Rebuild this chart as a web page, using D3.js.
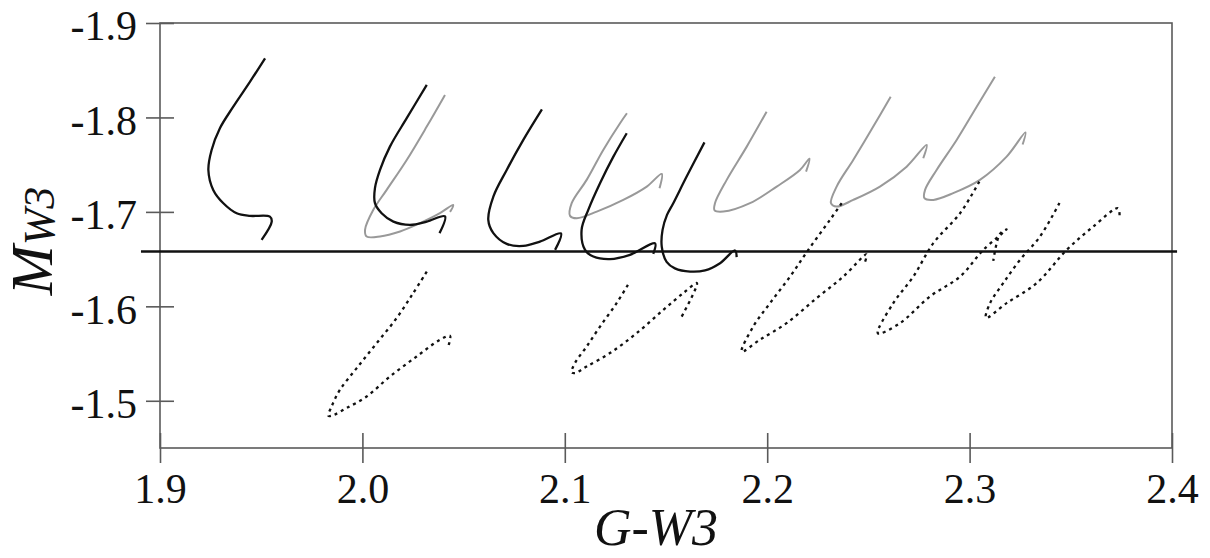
<!DOCTYPE html>
<html>
<head>
<meta charset="utf-8">
<script src="https://cdn.jsdelivr.net/npm/d3@7/dist/d3.min.js"></script>
<style>
  body { margin: 0; background: #fff; }
  svg { display: block; }
  text { font-family: "Times New Roman", "Liberation Serif", Times, serif; fill: #111; }
</style>
</head>
<body>
<svg id="chart-tracks" width="1210" height="558"></svg>
<script>
// === Data (G-W3, M_W3) ===
const xTicks = [1.9, 2.0, 2.1, 2.2, 2.3, 2.4];
const yTicks = [-1.9, -1.8, -1.7, -1.6, -1.5];
const refLevel = -1.658;            // horisontell linje
const refLineX = [1.8906, 2.4025];

// svarta heldragna spår
const black1 = [[1.9519,-1.8626],[1.9445,-1.8379],[1.9362,-1.8114],[1.9296,-1.7886],[1.9255,-1.7656],[1.9239,-1.7444],[1.9263,-1.7233],[1.9313,-1.7092],[1.9379,-1.6986],[1.9445,-1.6958],[1.9543,-1.6950],[1.9552,-1.6897],[1.9502,-1.6704]];
const black2 = [[2.0318,-1.8344],[2.0219,-1.7992],[2.0136,-1.7691],[2.0087,-1.7444],[2.0062,-1.7251],[2.0062,-1.7092],[2.0095,-1.6986],[2.0153,-1.6897],[2.0235,-1.6863],[2.0318,-1.6897],[2.0408,-1.6953],[2.0381,-1.6775]];
const black3 = [[2.0887,-1.8085],[2.0795,-1.7762],[2.0713,-1.7444],[2.0647,-1.7162],[2.0622,-1.6915],[2.0647,-1.6775],[2.0713,-1.6661],[2.0795,-1.6640],[2.0877,-1.6686],[2.0981,-1.6772],[2.0952,-1.6598]];
const black4 = [[2.1306,-1.7833],[2.1240,-1.7585],[2.1174,-1.7304],[2.1116,-1.7022],[2.1083,-1.6810],[2.1100,-1.6598],[2.1141,-1.6527],[2.1223,-1.6500],[2.1322,-1.6545],[2.1446,-1.6667],[2.1437,-1.6556]];
const black5 = [[2.1690,-1.7736],[2.1602,-1.7374],[2.1536,-1.7092],[2.1505,-1.6968],[2.1483,-1.6810],[2.1479,-1.6633],[2.1503,-1.6471],[2.1544,-1.6402],[2.1619,-1.6368],[2.1693,-1.6381],[2.1767,-1.6457],[2.1841,-1.6591],[2.1849,-1.6521]];

// grå spår
const gray1 = [[2.0408,-1.8238],[2.0318,-1.7903],[2.0219,-1.7550],[2.0120,-1.7233],[2.0054,-1.7022],[2.0013,-1.6810],[2.0021,-1.6739],[2.0087,-1.6739],[2.0186,-1.6792],[2.0285,-1.6881],[2.0383,-1.6986],[2.0449,-1.7074],[2.0433,-1.7000]];
const gray2 = [[2.1307,-1.8044],[2.1273,-1.7939],[2.1190,-1.7656],[2.1108,-1.7339],[2.1034,-1.7092],[2.1026,-1.6958],[2.1059,-1.6933],[2.1158,-1.7003],[2.1289,-1.7127],[2.1405,-1.7268],[2.1479,-1.7402],[2.1468,-1.7251]];
const gray3 = [[2.1997,-1.8061],[2.1899,-1.7691],[2.1800,-1.7339],[2.1742,-1.7092],[2.1740,-1.7016],[2.1783,-1.7003],[2.1915,-1.7092],[2.2047,-1.7268],[2.2162,-1.7444],[2.2209,-1.7564],[2.2192,-1.7426]];
const gray4 = [[2.2610,-1.8220],[2.2524,-1.7903],[2.2425,-1.7550],[2.2343,-1.7268],[2.2315,-1.7092],[2.2343,-1.7056],[2.2425,-1.7127],[2.2557,-1.7268],[2.2689,-1.7479],[2.2788,-1.7709],[2.2771,-1.7568]];
const gray5 = [[2.3125,-1.8432],[2.3035,-1.8114],[2.2936,-1.7762],[2.2837,-1.7444],[2.2780,-1.7233],[2.2777,-1.7145],[2.2821,-1.7127],[2.2919,-1.7198],[2.3051,-1.7339],[2.3183,-1.7585],[2.3276,-1.7841],[2.3262,-1.7714]];

// prickade spår
const dot1 = [[2.0318,-1.6368],[2.0251,-1.6140],[2.0169,-1.5875],[2.0071,-1.5611],[1.9972,-1.5346],[1.9889,-1.5116],[1.9848,-1.4940],[1.9832,-1.4841],[1.9860,-1.4852],[1.9922,-1.4923],[2.0021,-1.5045],[2.0136,-1.5257],[2.0268,-1.5469],[2.0383,-1.5646],[2.0433,-1.5688],[2.0424,-1.5575]];
const dot2 = [[2.1312,-1.6228],[2.1256,-1.6034],[2.1174,-1.5786],[2.1108,-1.5575],[2.1050,-1.5399],[2.1034,-1.5302],[2.1050,-1.5293],[2.1108,-1.5363],[2.1223,-1.5505],[2.1355,-1.5716],[2.1487,-1.5963],[2.1585,-1.6140],[2.1653,-1.6246],[2.1569,-1.5857]];
const dot3 = [[2.2368,-1.7092],[2.2310,-1.6915],[2.2203,-1.6598],[2.2113,-1.6315],[2.2014,-1.6034],[2.1931,-1.5786],[2.1874,-1.5521],[2.1964,-1.5646],[2.2096,-1.5822],[2.2244,-1.6087],[2.2376,-1.6315],[2.2491,-1.6550],[2.2478,-1.6439]];
const dot4 = [[2.3048,-1.7321],[2.2953,-1.6986],[2.2821,-1.6669],[2.2722,-1.6315],[2.2623,-1.6034],[2.2547,-1.5714],[2.2656,-1.5822],[2.2804,-1.6104],[2.2953,-1.6315],[2.3068,-1.6598],[2.3183,-1.6815],[2.3150,-1.6767],[2.3117,-1.6482]];
const dot5 = [[2.3444,-1.7095],[2.3348,-1.6739],[2.3249,-1.6492],[2.3166,-1.6245],[2.3101,-1.6034],[2.3081,-1.5878],[2.3183,-1.6034],[2.3331,-1.6245],[2.3480,-1.6598],[2.3611,-1.6845],[2.3733,-1.7039],[2.3741,-1.6958]];

const blackTracks = [black1, black2, black3, black4, black5];
const grayTracks = [gray1, gray2, gray3, gray4, gray5];
const dotTracks = [dot1, dot2, dot3, dot4, dot5];

const serif = "'Times New Roman', 'Liberation Serif', Times, serif";


function renderTrackChart() {
  const svg = d3.select("#chart-tracks");
  svg.selectAll("*").remove();

  const width = +svg.attr("width");
  const height = +svg.attr("height");
  const margin = { top: 23, right: 38, bottom: 110, left: 160 };
  const innerWidth = width - margin.left - margin.right;
  const innerHeight = height - margin.top - margin.bottom;

  const chartGroup = svg.append("g")
    .attr("transform", `translate(${margin.left}, ${margin.top})`);

  const xScale = d3.scaleLinear()
    .domain([1.9, 2.4])
    .range([0, innerWidth]);

  const yScale = d3.scaleLinear()
    .domain([-1.9, -1.45])   // minus uppåt
    .range([0, innerHeight]);

  // ram
  chartGroup.append("rect")
    .attr("width", innerWidth)
    .attr("height", innerHeight)
    .attr("fill", "none")
    .attr("stroke", "#5a5a5a")
    .attr("stroke-width", 1.6);

  // Y-axel, ticks åt båda hållen
  const yAxis = chartGroup.append("g")
    .call(d3.axisLeft(yScale).tickValues(yTicks).tickSize(14).tickFormat(d => d.toFixed(1)));
  yAxis.attr("font-family", null);
  yAxis.select(".domain").remove();
  yAxis.selectAll(".tick line").attr("x1", 14).attr("stroke", "#5a5a5a").attr("stroke-width", 1.6);
  yAxis.selectAll(".tick text")
    .attr("x", -23)
    .attr("dy", "0.4em")
    .style("font-size", "42px")
    .style("font-family", serif)
    .attr("fill", "#111");

  // X-axel
  const xAxis = chartGroup.append("g")
    .attr("transform", `translate(0, ${innerHeight})`)
    .call(d3.axisBottom(xScale).tickValues(xTicks).tickSize(15).tickFormat(d => d.toFixed(1)));
  xAxis.attr("font-family", null);
  xAxis.select(".domain").remove();
  xAxis.selectAll(".tick line").attr("y1", -15).attr("stroke", "#5a5a5a").attr("stroke-width", 1.6);
  xAxis.selectAll(".tick text")
    .attr("y", 55)
    .attr("dy", 0)
    .style("font-size", "42px")
    .style("font-family", serif)
    .attr("fill", "#111");

  const line = d3.line()
    .x(d => xScale(d[0]))
    .y(d => yScale(d[1]))
    .curve(d3.curveCatmullRom.alpha(0.5));

  // grå spår
  chartGroup.selectAll(".gray-track")
    .data(grayTracks)
    .enter()
    .append("path")
    .attr("class", "gray-track")
    .attr("d", line)
    .attr("fill", "none")
    .attr("stroke", "#999")
    .attr("stroke-width", 2);

  // prickade spår
  chartGroup.selectAll(".dot-track")
    .data(dotTracks)
    .enter()
    .append("path")
    .attr("class", "dot-track")
    .attr("d", line)
    .attr("fill", "none")
    .attr("stroke", "#111")
    .attr("stroke-width", 2.3)
    .attr("stroke-dasharray", "3,4");

  // svarta spår
  chartGroup.selectAll(".black-track")
    .data(blackTracks)
    .enter()
    .append("path")
    .attr("class", "black-track")
    .attr("d", line)
    .attr("fill", "none")
    .attr("stroke", "#111")
    .attr("stroke-width", 2.3);

  // referenslinje
  chartGroup.append("line")
    .attr("x1", xScale(refLineX[0]))
    .attr("x2", xScale(refLineX[1]))
    .attr("y1", yScale(refLevel))
    .attr("y2", yScale(refLevel))
    .attr("stroke", "#111")
    .attr("stroke-width", 2.6);

  // axeltitlar
  svg.append("text")
    .attr("x", 656)
    .attr("y", 545)
    .attr("text-anchor", "middle")
    .style("font-family", serif)
    .style("font-size", "52px")
    .style("font-style", "italic")
    .text("G-W3");

  const yTitle = svg.append("text")
    .attr("transform", "translate(52, 241) rotate(-90)")
    .attr("text-anchor", "middle")
    .style("font-family", serif)
    .style("font-style", "italic");
  yTitle.append("tspan").style("font-size", "60px").text("M");
  yTitle.append("tspan").style("font-size", "44px").attr("dy", 2).text("W3");
}

renderTrackChart();
</script>
</body>
</html>
